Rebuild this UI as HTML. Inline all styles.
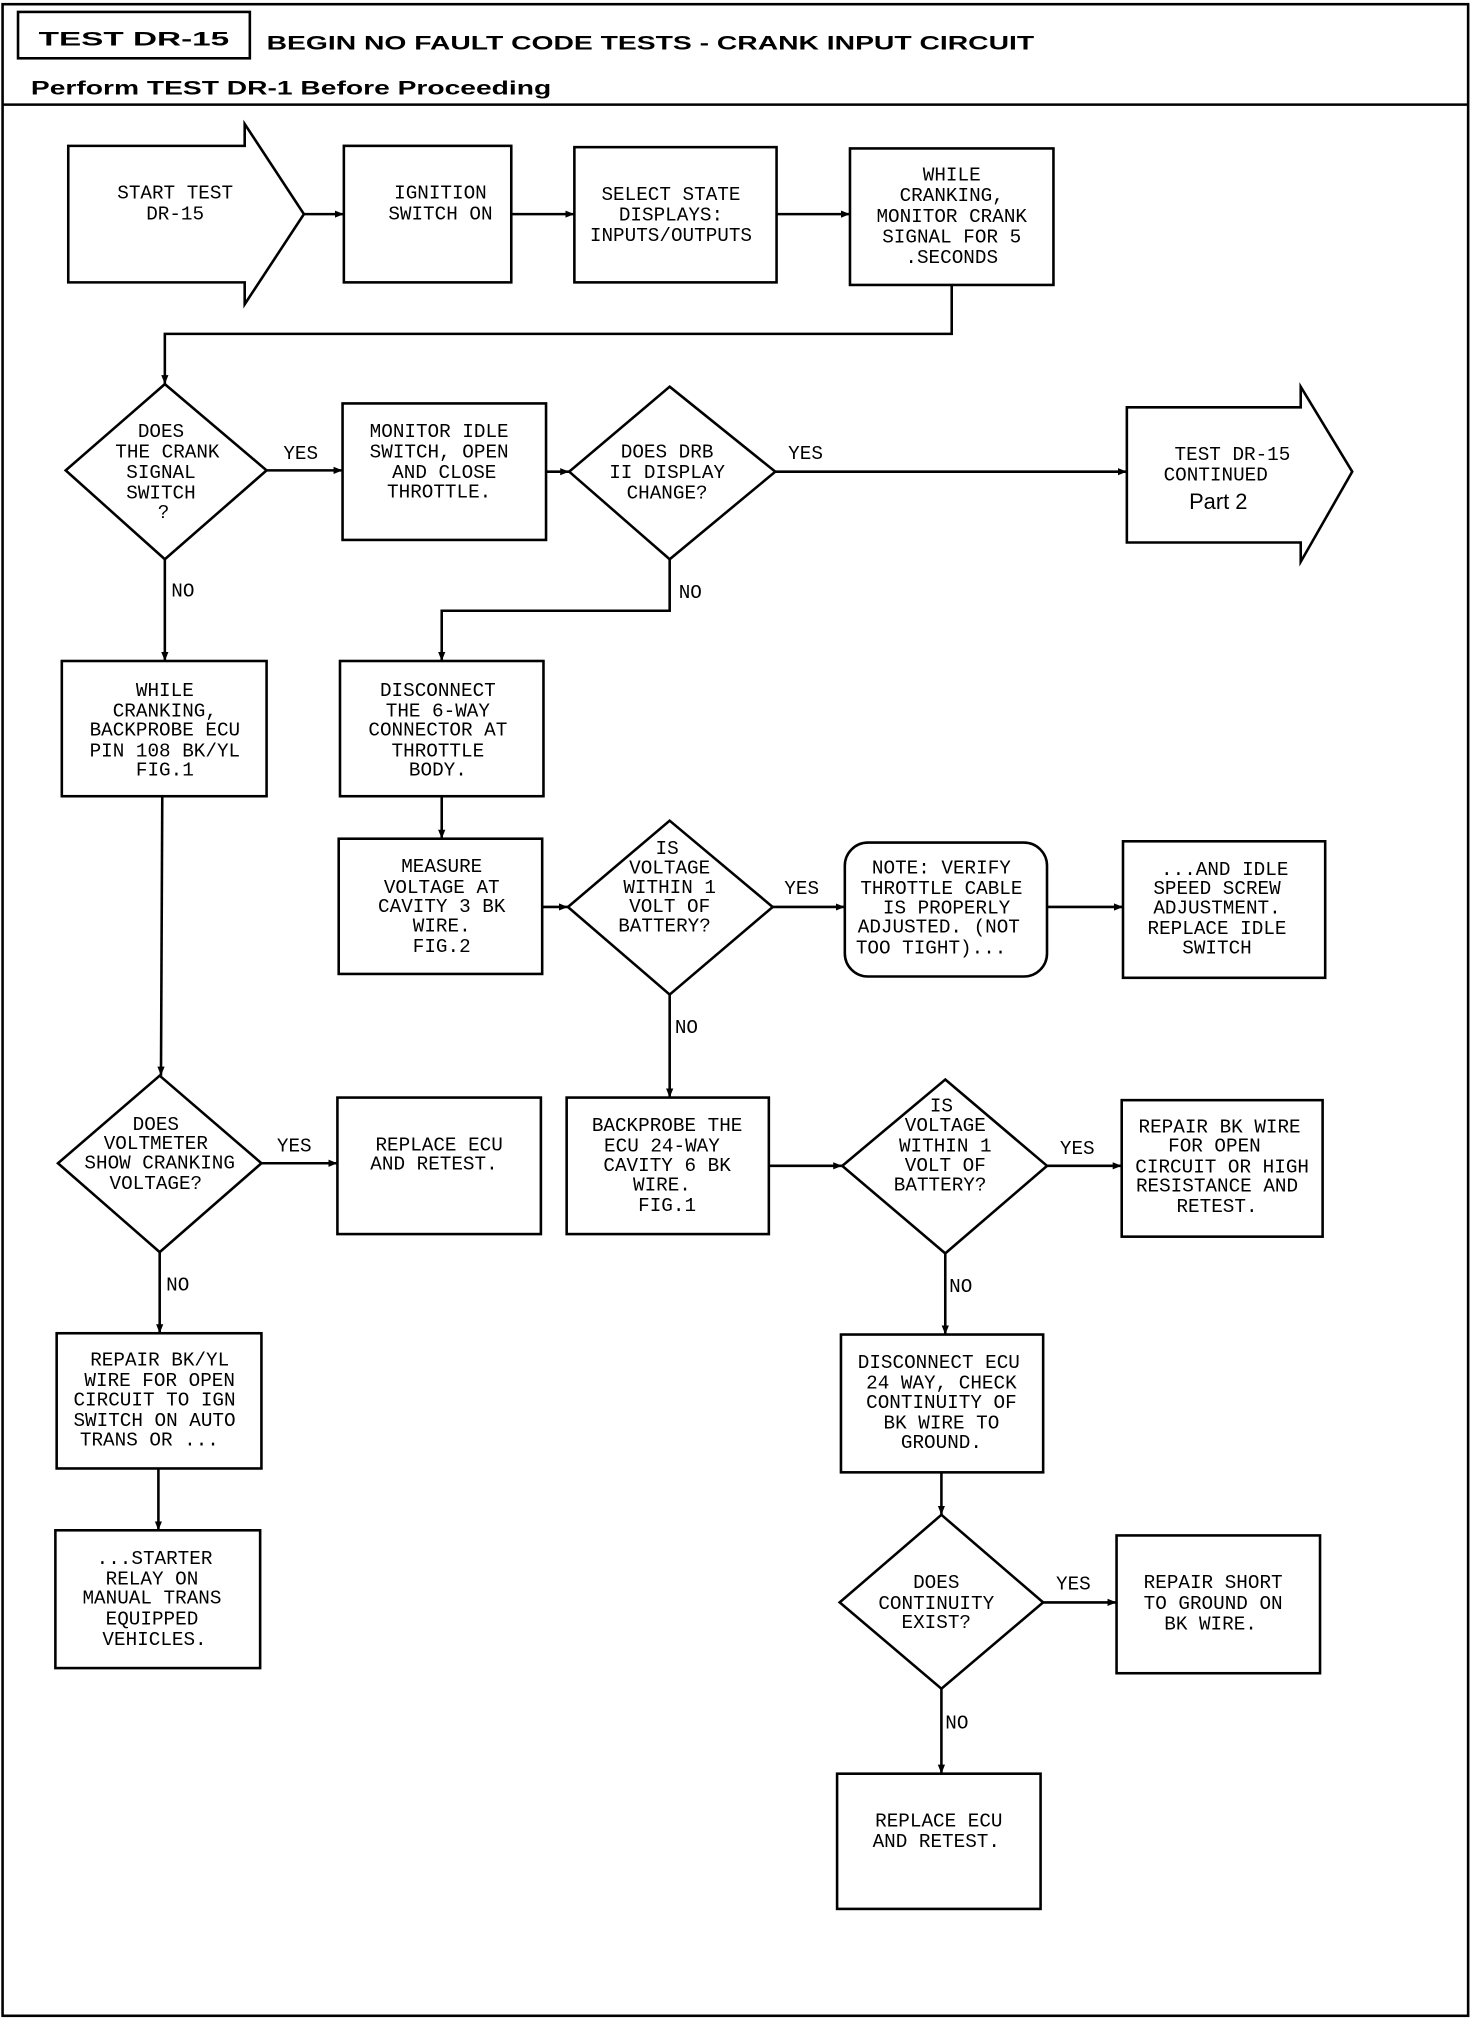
<!DOCTYPE html>
<html><head><meta charset="utf-8"><style>
html,body{margin:0;padding:0;background:#fff}
svg{display:block}
text{font-family:"Liberation Mono",monospace;font-size:15px;fill:#000}
.h{font-family:"Liberation Sans",sans-serif;font-weight:bold}
</style></head><body>
<svg width="1472" height="2020" viewBox="0 0 1143 1568" xmlns="http://www.w3.org/2000/svg">
<defs><marker id="a" viewBox="0 0 10 10" refX="10" refY="5" markerWidth="7" markerHeight="7" markerUnits="userSpaceOnUse" orient="auto"><path d="M0,1 L10,5 L0,9 z" fill="#000"/></marker></defs>
<g fill="none" stroke="#000" stroke-width="2">
<rect x="2" y="3" width="1138" height="1562"/>
<rect x="14" y="9" width="180" height="36"/>
<line x1="2" y1="81" x2="1140" y2="81"/>
<path d="M53,113 L190,113 L190,96 L236,166 L190,236 L190,219 L53,219 Z"/>
<rect x="267" y="113" width="130" height="106"/>
<rect x="446" y="114" width="157" height="105"/>
<rect x="660" y="115" width="158" height="106"/>
<line x1="236" y1="166" x2="267" y2="166" marker-end="url(#a)"/>
<line x1="397" y1="166" x2="446" y2="166" marker-end="url(#a)"/>
<line x1="603" y1="166" x2="660" y2="166" marker-end="url(#a)"/>
<polyline points="739,221 739,259 128,259 128,298" marker-end="url(#a)"/>
<path d="M128,298 L207,365 L128,434 L51,365 Z"/>
<line x1="207" y1="365" x2="266" y2="365" marker-end="url(#a)"/>
<rect x="266" y="313" width="158" height="106"/>
<line x1="424" y1="366" x2="442" y2="366" marker-end="url(#a)"/>
<path d="M520,300 L602,366 L520,434 L442,366 Z"/>
<line x1="602" y1="366" x2="875" y2="366" marker-end="url(#a)"/>
<path d="M875,316 L1010,316 L1010,300 L1050,366 L1010,436 L1010,421 L875,421 Z"/>
<line x1="128" y1="434" x2="128" y2="513" marker-end="url(#a)"/>
<rect x="48" y="513" width="159" height="105"/>
<polyline points="520,434 520,474 343,474 343,513" marker-end="url(#a)"/>
<rect x="264" y="513" width="158" height="105"/>
<line x1="343" y1="618" x2="343" y2="651" marker-end="url(#a)"/>
<rect x="263" y="651" width="158" height="105"/>
<line x1="421" y1="704" x2="441" y2="704" marker-end="url(#a)"/>
<path d="M520,637 L600,704 L520,772 L441,704 Z"/>
<line x1="600" y1="704" x2="656" y2="704" marker-end="url(#a)"/>
<rect x="656" y="654" width="157" height="104" rx="18"/>
<line x1="813" y1="704" x2="872" y2="704" marker-end="url(#a)"/>
<rect x="872" y="653" width="157" height="106"/>
<line x1="520" y1="772" x2="520" y2="852" marker-end="url(#a)"/>
<rect x="440" y="852" width="157" height="106"/>
<line x1="597" y1="905" x2="654" y2="905" marker-end="url(#a)"/>
<path d="M734,838 L813,905 L734,973 L654,905 Z"/>
<line x1="813" y1="905" x2="871" y2="905" marker-end="url(#a)"/>
<rect x="871" y="854" width="156" height="106"/>
<line x1="734" y1="973" x2="734" y2="1036" marker-end="url(#a)"/>
<rect x="653" y="1036" width="157" height="107"/>
<line x1="731" y1="1143" x2="731" y2="1176" marker-end="url(#a)"/>
<path d="M731,1176 L810,1244 L731,1311 L652,1244 Z"/>
<line x1="810" y1="1244" x2="867" y2="1244" marker-end="url(#a)"/>
<rect x="867" y="1192" width="158" height="107"/>
<line x1="731" y1="1311" x2="731" y2="1377" marker-end="url(#a)"/>
<rect x="650" y="1377" width="158" height="105"/>
<line x1="126" y1="618" x2="125" y2="835" marker-end="url(#a)"/>
<path d="M124,835 L203,903 L124,972 L45,903 Z"/>
<line x1="203" y1="903" x2="262" y2="903" marker-end="url(#a)"/>
<rect x="262" y="852" width="158" height="106"/>
<line x1="124" y1="972" x2="124" y2="1035" marker-end="url(#a)"/>
<rect x="44" y="1035" width="159" height="105"/>
<line x1="123" y1="1140" x2="123" y2="1188" marker-end="url(#a)"/>
<rect x="43" y="1188" width="159" height="107"/>
</g>
<text class="h" x="30" y="35" font-size="25" textLength="148" lengthAdjust="spacingAndGlyphs">TEST DR-15</text>
<text class="h" x="207" y="38" font-size="22" textLength="596" lengthAdjust="spacingAndGlyphs">BEGIN NO FAULT CODE TESTS - CRANK INPUT CIRCUIT</text>
<text class="h" x="24" y="73" font-size="21" textLength="404" lengthAdjust="spacingAndGlyphs">Perform TEST DR-1 Before Proceeding</text>
<g text-anchor="middle">
<text x="136" y="154">START TEST</text><text x="136" y="170">DR-15</text>
<text x="342" y="154">IGNITION</text><text x="342" y="170">SWITCH ON</text>
<text x="521" y="155">SELECT STATE</text><text x="521" y="171">DISPLAYS:</text><text x="521" y="187">INPUTS/OUTPUTS</text>
<text x="739" y="140">WHILE</text><text x="739" y="156">CRANKING,</text><text x="739" y="172">MONITOR CRANK</text><text x="739" y="188">SIGNAL FOR 5</text><text x="739" y="204">.SECONDS</text>
<text x="125" y="339">DOES</text><text x="130" y="355">THE CRANK</text><text x="125" y="371">SIGNAL</text><text x="125" y="387">SWITCH</text><text x="127" y="402">?</text>
<text x="341" y="339">MONITOR IDLE</text><text x="341" y="355">SWITCH, OPEN</text><text x="345" y="371">AND CLOSE</text><text x="341" y="386">THROTTLE.</text>
<text x="518" y="355">DOES DRB</text><text x="518" y="371">II DISPLAY</text><text x="518" y="387">CHANGE?</text>
<text x="957" y="357">TEST DR-15</text><text x="944" y="373">CONTINUED</text>
<text x="946" y="395" style="font-family:'Liberation Sans',sans-serif;font-size:17px">Part 2</text>
<text x="128" y="540">WHILE</text><text x="128" y="556">CRANKING,</text><text x="128" y="571">BACKPROBE ECU</text><text x="128" y="587">PIN 108 BK/YL</text><text x="128" y="602">FIG.1</text>
<text x="340" y="540">DISCONNECT</text><text x="340" y="556">THE 6-WAY</text><text x="340" y="571">CONNECTOR AT</text><text x="340" y="587">THROTTLE</text><text x="340" y="602">BODY.</text>
<text x="343" y="677">MEASURE</text><text x="343" y="693">VOLTAGE AT</text><text x="343" y="708">CAVITY 3 BK</text><text x="343" y="723">WIRE.</text><text x="343" y="739">FIG.2</text>
<text x="518" y="663">IS</text><text x="520" y="678">VOLTAGE</text><text x="520" y="693">WITHIN 1</text><text x="520" y="708">VOLT OF</text><text x="516" y="723">BATTERY?</text>
<text x="731" y="678">NOTE: VERIFY</text><text x="731" y="694">THROTTLE CABLE</text><text x="735" y="709">IS PROPERLY</text><text x="729" y="724">ADJUSTED. (NOT</text><text x="723" y="740">TOO TIGHT)...</text>
<text x="951" y="679">...AND IDLE</text><text x="945" y="694">SPEED SCREW</text><text x="945" y="709">ADJUSTMENT.</text><text x="945" y="725">REPLACE IDLE</text><text x="945" y="740">SWITCH</text>
<text x="518" y="878">BACKPROBE THE</text><text x="514" y="894">ECU 24-WAY</text><text x="518" y="909">CAVITY 6 BK</text><text x="514" y="924">WIRE.</text><text x="518" y="940">FIG.1</text>
<text x="731" y="863">IS</text><text x="734" y="878">VOLTAGE</text><text x="734" y="894">WITHIN 1</text><text x="734" y="909">VOLT OF</text><text x="730" y="924">BATTERY?</text>
<text x="947" y="879">REPAIR BK WIRE</text><text x="943" y="894">FOR OPEN</text><text x="949" y="910">CIRCUIT OR HIGH</text><text x="945" y="925">RESISTANCE AND</text><text x="945" y="941">RETEST.</text>
<text x="729" y="1062">DISCONNECT ECU</text><text x="731" y="1078">24 WAY, CHECK</text><text x="731" y="1093">CONTINUITY OF</text><text x="731" y="1109">BK WIRE TO</text><text x="731" y="1124">GROUND.</text>
<text x="727" y="1233">DOES</text><text x="727" y="1249">CONTINUITY</text><text x="727" y="1264">EXIST?</text>
<text x="942" y="1233">REPAIR SHORT</text><text x="942" y="1249">TO GROUND ON</text><text x="940" y="1265">BK WIRE.</text>
<text x="729" y="1418">REPLACE ECU</text><text x="727" y="1434">AND RETEST.</text>
<text x="121" y="877">DOES</text><text x="121" y="892">VOLTMETER</text><text x="124" y="907">SHOW CRANKING</text><text x="121" y="923">VOLTAGE?</text>
<text x="341" y="893">REPLACE ECU</text><text x="337" y="908">AND RETEST.</text>
<text x="124" y="1060">REPAIR BK/YL</text><text x="124" y="1076">WIRE FOR OPEN</text><text x="120" y="1091">CIRCUIT TO IGN</text><text x="120" y="1107">SWITCH ON AUTO</text><text x="116" y="1122">TRANS OR ...</text>
<text x="120" y="1214">...STARTER</text><text x="118" y="1230">RELAY ON</text><text x="118" y="1245">MANUAL TRANS</text><text x="118" y="1261">EQUIPPED</text><text x="120" y="1277">VEHICLES.</text>
</g>
<g style="font-family:'Liberation Sans',sans-serif;font-size:15px">
<text x="220" y="356">YES</text><text x="612" y="356">YES</text>
<text x="133" y="463">NO</text><text x="527" y="464">NO</text>
<text x="609" y="694">YES</text><text x="524" y="802">NO</text>
<text x="823" y="896">YES</text><text x="737" y="1003">NO</text>
<text x="820" y="1234">YES</text><text x="734" y="1342">NO</text>
<text x="215" y="894">YES</text><text x="129" y="1002">NO</text>
</g>
</svg>
</body></html>
